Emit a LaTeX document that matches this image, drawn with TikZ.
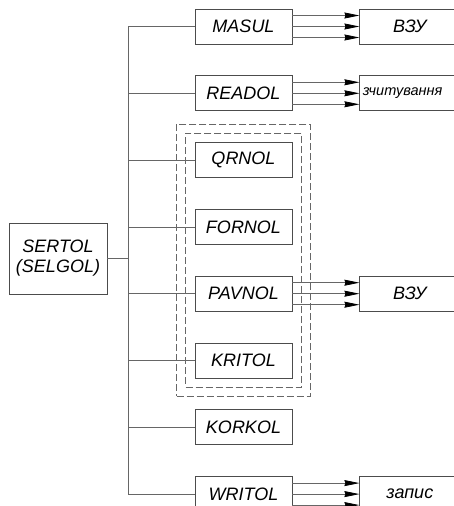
\documentclass[tikz,border=0pt]{standalone}
\usepackage{fontspec}
\setmainfont{Liberation Sans}
\usetikzlibrary{arrows.meta, positioning, fit}

\begin{document}
\begin{tikzpicture}[
  x=1pt, y=-1pt,
  block/.style={rectangle, draw=black!70, line width=0.8pt, minimum width=97pt,
                minimum height=35pt, inner sep=0pt, align=center,
                font=\fontsize{18}{20}\selectfont\itshape},
  store/.style={block, minimum width=100pt},
  wire/.style={draw=black!60, line width=0.8pt},
  arr/.style={wire, -{Stealth[length=15pt, width=6pt, inset=1pt, color=black]}},
  frame/.style={draw=black!60, dash pattern=on 7pt off 3pt, line width=0.8pt},
  node distance=31pt
]
  \clip (0,0) rectangle (454,506);
  \useasboundingbox (0,0) rectangle (454,506);

  \node[block] (masul) at (243.5,26.5) {MASUL};
  \node[block, below=of masul]  (readol) {READOL};
  \node[block, below=of readol] (qrnol)  {QRNOL};
  \node[block, below=of qrnol]  (fornol) {FORNOL};
  \node[block, below=of fornol] (pavnol) {PAVNOL};
  \node[block, below=of pavnol] (kritol) {KRITOL};
  \node[block, below=of kritol] (korkol) {KORKOL};
  \node[block, below=of korkol] (writol) {WRITOL};

  \node[block, minimum width=98pt, minimum height=71pt] (sertol) at (58,258.5) {SERTOL\\(SELGOL)};

  \node[store, right=67pt of masul]  (vzuA)  {ВЗУ};
  \node[store, right=67pt of readol, text width=94pt, align=left, inner xsep=3pt,
        font=\fontsize{14.5}{17}\selectfont\itshape] (zchyt) {зчитування};
  \node[store, right=67pt of pavnol] (vzuB)  {ВЗУ};
  \node[store, right=67pt of writol] (zapys) {запис};

  % dashed frames round the inner group
  \node[frame, fit=(qrnol)(kritol), inner sep=9pt]  (inframe)  {};
  \node[frame, fit=(qrnol)(kritol), inner sep=18pt] (outframe) {};

  % bus
  \coordinate (bus) at (128.7,0);
  \draw[wire] (masul.west) -- (masul.west -| bus) -- (writol.west -| bus) -- (writol.west);
  \foreach \n in {readol,qrnol,fornol,pavnol,kritol,korkol}
    \draw[wire] (\n.west) -- (\n.west -| bus);
  \draw[wire] (sertol.east) -- (sertol.east -| bus);

  % triple arrows
  \foreach \src/\dst in {masul/vzuA, readol/zchyt, pavnol/vzuB, writol/zapys}
    \foreach \dy in {-11,0,11}
      \draw[arr] ([yshift=\dy pt]\src.east) -- ([yshift=\dy pt]\src.east -| \dst.west);
\end{tikzpicture}
\end{document}
